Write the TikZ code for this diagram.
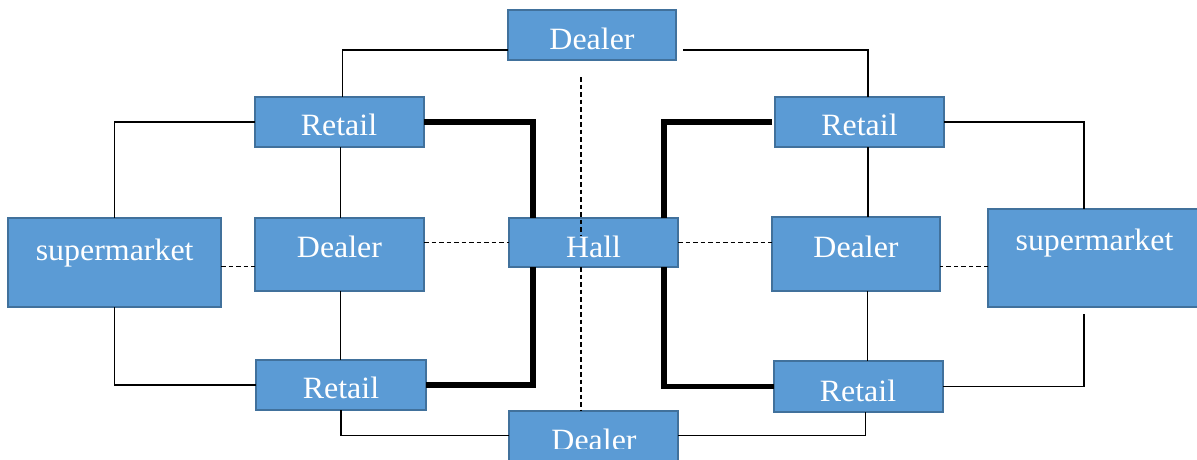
\documentclass[tikz,border=0pt]{standalone}
\usepackage{fontspec}
\setmainfont{Liberation Serif}[FakeStretch=1.03]
\definecolor{boxfill}{RGB}{91,155,213}
\definecolor{boxline}{RGB}{65,113,156}
\begin{document}
\begin{tikzpicture}[x=1pt,y=-1pt,
  box/.style={draw=boxline, fill=boxfill, line width=2pt, inner sep=0pt,
              outer sep=0pt, anchor=north west},
  lbl/.style={text=white, font=\fontsize{31}{31}\selectfont, inner sep=0pt, anchor=base},
  conn/.style={line width=1.2pt, black},
  trunk/.style={line width=5.5pt, black},
  dashlink/.style={line width=1.4pt, black, dash pattern=on 4.5pt off 3pt}]
\useasboundingbox (0,0) rectangle (1197,459);
\clip (0,0) rectangle (1197,459);

% boxes
\node[box, minimum width=168pt,   minimum height=50pt] (dT)  at (508,10)    {};
\node[box, minimum width=169.5pt, minimum height=50pt] (rTL) at (254.5,97)  {};
\node[box, minimum width=169pt,   minimum height=50pt] (rTR) at (775,97)    {};
\node[box, minimum width=212.6pt, minimum height=89pt] (sL)  at (8.4,218)   {};
\node[box, minimum width=169.5pt, minimum height=73pt] (dL)  at (254.5,218) {};
\node[box, minimum width=169pt,   minimum height=49pt] (hall) at (509,218)  {};
\node[box, minimum width=168pt,   minimum height=74pt] (dR)  at (772,217)   {};
\node[box, minimum width=213pt,   minimum height=98pt] (sR)  at (988,209)   {};
\node[box, minimum width=169.2pt, minimum height=50pt] (rBL) at (256.4,360) {};
\node[box, minimum width=169pt,   minimum height=51pt] (rBR) at (774,361)   {};
\node[box, minimum width=169pt,   minimum height=50pt] (dB)  at (509,410.7) {};

% labels
\begin{scope}
  \clip (dT.north west) rectangle (dT.east |- 0,49);
  \node[lbl] (tdT) at (592,49.8) {Dealer};
\end{scope}
\begin{scope}
  \clip (dB.north west) rectangle (dB.east |- 0,448.3);
  \node[lbl] (tdB) at (594,450.5) {Dealer};
\end{scope}
\node[lbl] (trTL) at (339,135.5)   {Retail};
\node[lbl] (trTR) at (859.5,135.5) {Retail};
\node[lbl] (tsL)  at (114.7,260)   {supermarket};
\node[lbl] (tdL)  at (339.5,257)   {Dealer};
\node[lbl] (thall) at (593.5,257.5) {Hall};
\node[lbl] (tdR)  at (856,257.7)   {Dealer};
\node[lbl] (tsR)  at (1094.5,250)  {supermarket};
\node[lbl] (trBL) at (341,398.5)   {Retail};
\node[lbl] (trBR) at (858,401)     {Retail};

% left half
\draw[conn] ([shift={(0,-10)}]dT.south west) -| ([xshift=3pt]rTL.north);
\draw[conn] (rTL.west) -| (sL.north);
\draw[trunk] (rTL.east) -| ([xshift=24pt]hall.north west);
\draw[conn] ([xshift=1pt]rTL.south) -- ([xshift=1pt]rTL.south |- dL.north);
\draw[dashlink] ([shift={(0,4.2)}]sL.east) -- ([shift={(0,4.2)}]sL.east -| dL.west);
\draw[dashlink] (dL.east |- hall.west) -- (hall.west);
\draw[conn] (sL.south) |- (rBL.west);
\draw[conn] ([xshift=1pt]dL.south) -- ([xshift=1pt]dL.south |- rBL.north);
\draw[trunk] ([xshift=24pt]hall.south west) |- (rBL.east);
\draw[conn] (rBL.south) |- (dB.west);

% centre axis
\draw[dashlink] ([shift={(-11,17)}]dT.south) -- ([shift={(-11,17)}]dT.south |- hall.north);
\draw[dashlink] ([xshift=-12.5pt]hall.south) -- ([xshift=-12.5pt]hall.south |- dB.north);

% right half
\draw[conn] ([shift={(7,-10)}]dT.south east) -| ([xshift=8.5pt]rTR.north);
\draw[trunk] ([xshift=-3pt]rTR.west) -| ([xshift=-14pt]hall.north east);
\draw[conn] (rTR.east) -| ([xshift=96pt]sR.north west);
\draw[conn] ([xshift=8.5pt]rTR.south) -- ([xshift=8.5pt]rTR.south |- dR.north);
\draw[dashlink] (hall.east) -- (hall.east -| dR.west);
\draw[dashlink] ([shift={(0,8.7)}]sR.west) -- ([shift={(0,8.7)}]sR.west -| dR.east);
\draw[trunk] ([xshift=-14pt]hall.south east) |- (rBR.west);
\draw[conn] ([xshift=11.6pt]dR.south) -- ([xshift=11.6pt]dR.south |- rBR.north);
\draw[conn] (rBR.east) -| ([shift={(96,7)}]sR.south west);
\draw[conn] ([xshift=7pt]rBR.south) |- (dB.east);
\end{tikzpicture}
\end{document}
